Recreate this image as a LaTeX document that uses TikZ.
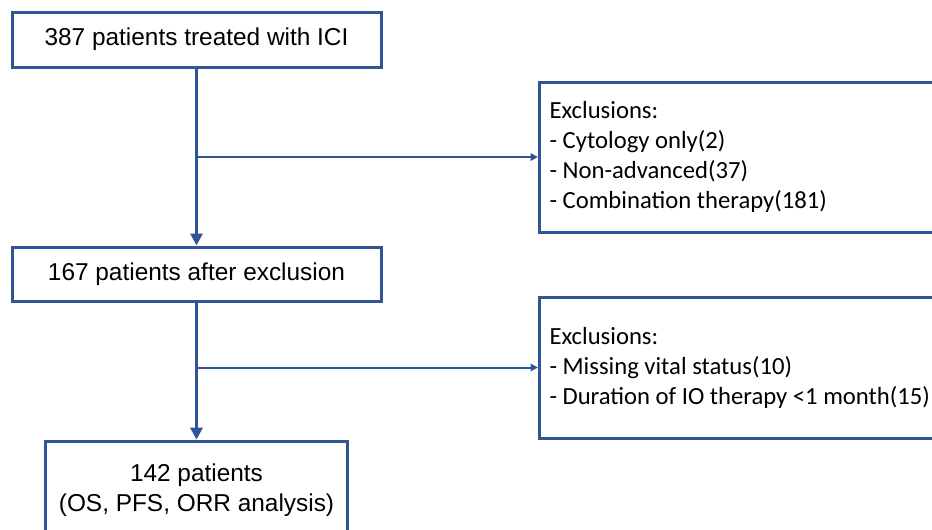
\documentclass[tikz,border=0pt]{standalone}
\usepackage{fontspec}
\setmainfont{Liberation Sans}
\newfontfamily\calibri{Carlito}
\usetikzlibrary{arrows.meta,positioning}
\definecolor{boxblue}{RGB}{47,85,151}

\begin{document}
\begin{tikzpicture}[x=0.75pt,y=0.75pt,yscale=-1,xscale=1,
  stepbox/.style={draw=boxblue,line width=2.25pt,fill=white,align=center,font=\fontsize{18.3}{22.5}\selectfont,minimum width=276.75pt},
  exclbox/.style={draw=boxblue,line width=2.25pt,fill=white,anchor=west,align=flush left,text width=330pt,inner xsep=7.5pt,font=\calibri\fontsize{18.5}{22.5}\selectfont},
  mainarrow/.style={draw=boxblue,line width=2.25pt,-{Triangle[width=9pt,length=9pt]}},
  sidearrow/.style={draw=boxblue,line width=1.5pt,-{Triangle[width=5.5pt,length=5.5pt]}}]

\clip (0,0) rectangle (932,529);

% Main boxes
\node[stepbox,minimum height=41.25pt] (start) at (196.5,39.5) {387 patients treated with ICI};
\node[stepbox,minimum height=40.5pt] (after) at (196.5,274) {167 patients after exclusion};
\node[stepbox,minimum width=226.5pt,minimum height=74pt] (final) at (196.5,490.5) {142 patients\\(OS, PFS, ORR analysis)};

% Exclusion boxes
\node[exclbox,minimum height=112.5pt] (excla) at (538,157) {Exclusions:\\- Cytology only(2)\\- Non-advanced(37)\\- Combination therapy(181)};
\node[exclbox,minimum height=105.75pt] (exclb) at (538,367.5) {Exclusions:\\- Missing vital status(10)\\- Duration of IO therapy <1 month(15)};

% Connectors
\coordinate (splita) at (start.south |- excla.west);
\coordinate (splitb) at (after.south |- exclb.west);
\draw[mainarrow] (start.south) -- (after.north);
\draw[mainarrow] (after.south) -- (final.north);
\draw[sidearrow] (splita) -- (excla.west);
\draw[sidearrow] (splitb) -- (exclb.west);
\end{tikzpicture}
\end{document}
